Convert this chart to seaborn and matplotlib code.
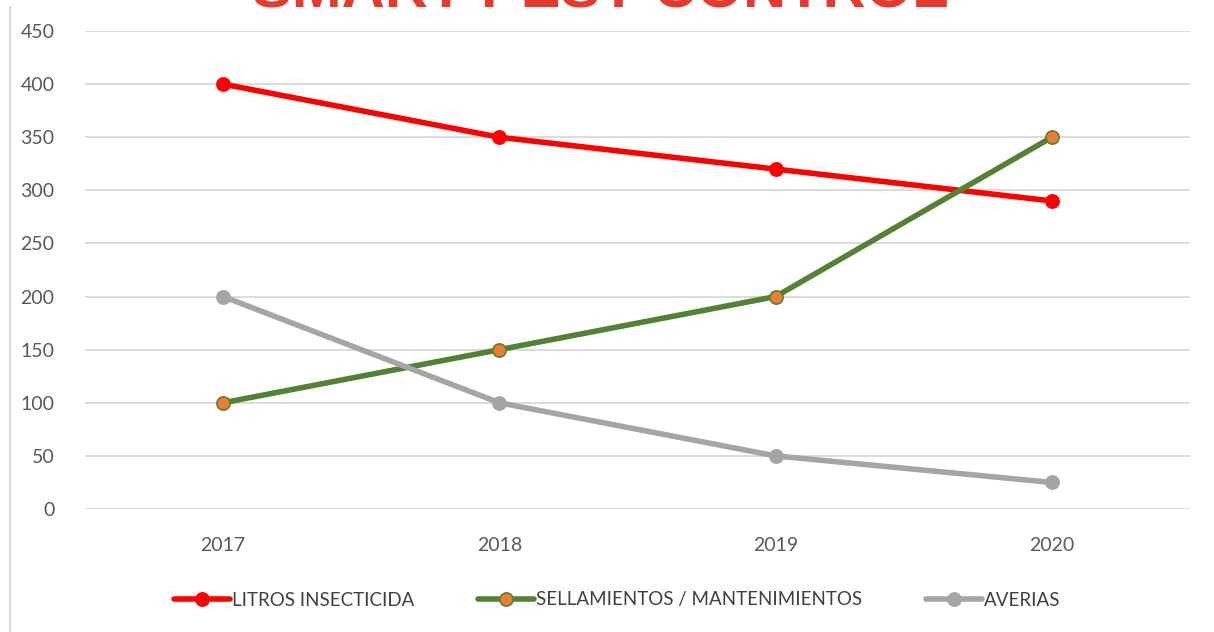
import pandas as pd
import seaborn as sns
import matplotlib.pyplot as plt
from matplotlib.lines import Line2D

years = ['2017', '2018', '2019', '2020']
litros = [400, 350, 320, 290]
sellamientos = [100, 150, 200, 350]
averias = [200, 100, 50, 25]
series_names = ['LITROS INSECTICIDA', 'SELLAMIENTOS / MANTENIMIENTOS', 'AVERIAS']

df = pd.DataFrame({
    'year': years,
    series_names[0]: litros,
    series_names[1]: sellamientos,
    series_names[2]: averias,
})

sns.set_theme(style='white')
plt.rcParams['font.family'] = ['Lato', 'DejaVu Sans']

dpi = 100
fig = plt.figure(figsize=(1214 / dpi, 632 / dpi), dpi=dpi)
ax = fig.add_axes([85 / 1214, 1 - 509 / 632, (1190 - 85) / 1214, (509 - 31) / 632])

styles = {
    series_names[0]: dict(color='#FF0000', markerfacecolor='#FF0000', markeredgecolor='#FF0000'),
    series_names[1]: dict(color='#548235', markerfacecolor='#ED7D31', markeredgecolor='#548235'),
    series_names[2]: dict(color='#A5A5A5', markerfacecolor='#A5A5A5', markeredgecolor='#A5A5A5'),
}

for col in series_names:
    sns.lineplot(data=df, x='year', y=col, ax=ax, marker='o', markersize=9.5,
                 markeredgewidth=1.2, linewidth=4.0, label=col, **styles[col])

ax.set_ylim(0, 450)
ax.set_yticks(range(0, 451, 50))
ax.set_xlim(-0.5, 3.5)
ax.set_xlabel('')
ax.set_ylabel('')
ax.grid(axis='y', color='#D9D9D9', linewidth=1.3)
ax.set_axisbelow(True)
for s in ax.spines.values():
    s.set_visible(False)
ax.tick_params(axis='both', length=0, labelsize=14, labelcolor='#595959')
ax.tick_params(axis='y', pad=22)
ax.tick_params(axis='x', pad=20)

# legend below the plot, no frame
handles, labels = ax.get_legend_handles_labels()
ax.legend(handles, labels, loc='center', bbox_to_anchor=(617 / 1214, 1 - 600 / 632),
          bbox_transform=fig.transFigure, ncol=3, frameon=False, fontsize=13.5,
          handlelength=3.0, handletextpad=0.1, columnspacing=3.4, labelcolor='#404040')

# title sits partly above the top edge, as in the reference
fig.text(600 / 1214, 1 - 8 / 632, 'SMART PEST CONTROL', ha='center', va='baseline',
         fontsize=43, fontweight='bold', color='#E8392F', family=['Liberation Sans', 'DejaVu Sans'])

fig.add_artist(Line2D([10 / 1214, 10 / 1214], [0, 1 - 7 / 632], transform=fig.transFigure,
                      color='#D9D9D9', linewidth=1.5))

fig.savefig('out.png', dpi=dpi)
